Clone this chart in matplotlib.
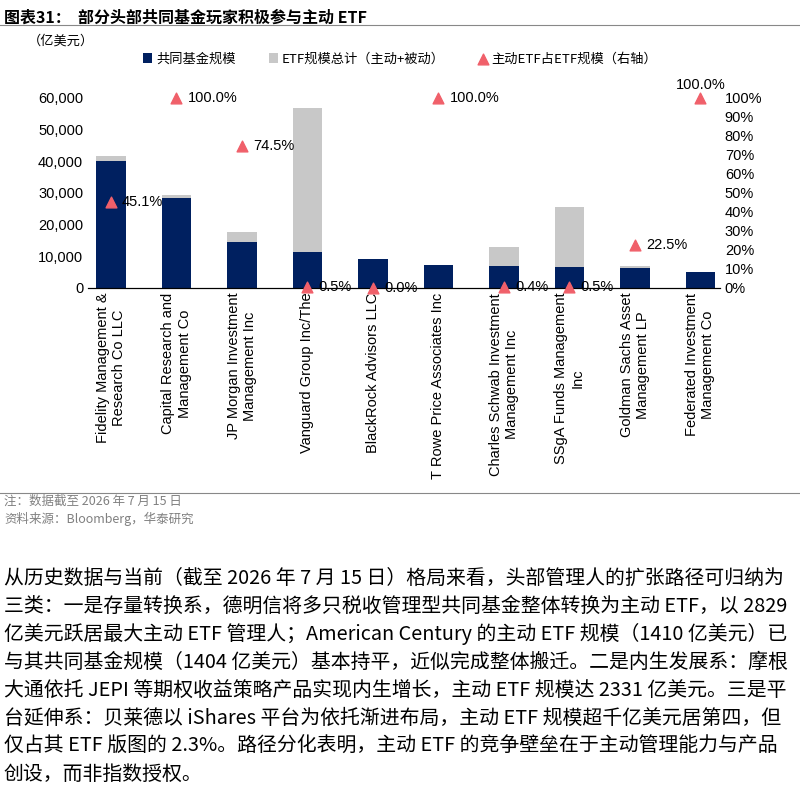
import matplotlib.pyplot as plt
import numpy as np

plt.rcParams['font.family'] = ['Noto Sans CJK SC', 'DejaVu Sans']

managers = ['Fidelity Management &\nResearch Co LLC', 'Capital Research and\nManagement Co',
            'JP Morgan Investment\nManagement Inc', 'Vanguard Group Inc/The',
            'BlackRock Advisors LLC', 'T Rowe Price Associates Inc',
            'Charles Schwab Investment\nManagement Inc', 'SSgA Funds Management\nInc',
            'Goldman Sachs Asset\nManagement LP', 'Federated Investment\nManagement Co']
mutual_fund = [40000, 28500, 14500, 11300, 9000, 7300, 7000, 6700, 6300, 5000]
etf_total = [41500, 29200, 17800, 56700, 0, 0, 13000, 25500, 6900, 0]
active_share = [45.1, 100.0, 74.5, 0.5, 0.0, 100.0, 0.4, 0.5, 22.5, 100.0]

navy = '#002060'
grey = '#c8c8c8'
red = '#f0606a'

fig = plt.figure(figsize=(8, 7.89), dpi=100)
ax = fig.add_axes([0.11, 0.635, 0.79, 0.241])
x = np.arange(len(managers))
ax.bar(x, etf_total, width=0.45, color=grey, label='ETF规模总计（主动+被动）', zorder=1)
ax.bar(x, mutual_fund, width=0.45, color=navy, label='共同基金规模', zorder=2)
ax.set_ylim(0, 60000)
ax.set_xlim(-0.35, 9.3)
ax.set_yticks(range(0, 60001, 10000))
ax.set_yticklabels([f'{v:,}' for v in range(0, 60001, 10000)], fontsize=10.5,
                   family='Liberation Sans')
ax.set_xticks(x)
ax.set_xticklabels(managers, rotation=90, fontsize=10.5, family='Liberation Sans', va='top')
for s in ['top', 'right', 'left']:
    ax.spines[s].set_visible(False)
ax.tick_params(axis='y', length=0)
ax.tick_params(axis='x', length=0)

ax2 = ax.twinx()
ax2.scatter(x, np.array(active_share) / 100, marker='^', s=60, color=red, zorder=5,
            label='主动ETF占ETF规模（右轴）', clip_on=False)
for i, (xi, v) in enumerate(zip(x, active_share)):
    if i == len(x) - 1:
        ax2.text(xi, v / 100 + 0.07, f'{v:.1f}%', fontsize=10.5, ha='center', va='center',
                 family='Liberation Sans')
    else:
        ax2.text(xi + 0.17, v / 100, f'{v:.1f}%', fontsize=10.5, va='center',
                 family='Liberation Sans')
ax2.set_ylim(0, 1.0)
ax2.set_yticks(np.arange(0, 1.01, 0.1))
ax2.set_yticklabels([f'{int(round(t*100))}%' for t in np.arange(0, 1.01, 0.1)], fontsize=10.5,
                    family='Liberation Sans')
for s in ['top', 'right', 'left']:
    ax2.spines[s].set_visible(False)
ax2.tick_params(axis='y', length=0)

h1, l1 = ax.get_legend_handles_labels()
h2, l2 = ax2.get_legend_handles_labels()
fig.legend([h1[1], h1[0], h2[0]], [l1[1], l1[0], l2[0]], loc='center', ncol=3,
           bbox_to_anchor=(0.5, 0.925), frameon=False, fontsize=9.5, handlelength=0.7,
           columnspacing=2.5, handletextpad=0.3)
fig.text(0.035, 0.943, '（亿美元）', fontsize=9.5)

fig.text(0.005, 0.988, '图表31：  部分头部共同基金玩家积极参与主动 ETF', fontsize=11.5,
         weight='bold', va='top')
fig.add_artist(plt.Line2D([0, 1], [0.968, 0.968], color='#888888', lw=0.8))
fig.text(0.005, 0.36, '注：数据截至 2026 年 7 月 15 日', fontsize=9, color='#808080')
fig.text(0.005, 0.337, '资料来源：Bloomberg，华泰研究', fontsize=9, color='#808080')
fig.add_artist(plt.Line2D([0, 1], [0.375, 0.375], color='#888888', lw=0.8))

para = ['从历史数据与当前（截至 2026 年 7 月 15 日）格局来看，头部管理人的扩张路径可归纳为',
        '三类：一是存量转换系，德明信将多只税收管理型共同基金整体转换为主动 ETF，以 2829',
        '亿美元跃居最大主动 ETF 管理人；American Century 的主动 ETF 规模（1410 亿美元）已',
        '与其共同基金规模（1404 亿美元）基本持平，近似完成整体搬迁。二是内生发展系：摩根',
        '大通依托 JEPI 等期权收益策略产品实现内生增长，主动 ETF 规模达 2331 亿美元。三是平',
        '台延伸系：贝莱德以 iShares 平台为依托渐进布局，主动 ETF 规模超千亿美元居第四，但',
        '仅占其 ETF 版图的 2.3%。路径分化表明，主动 ETF 的竞争壁垒在于主动管理能力与产品',
        '创设，而非指数授权。']
for i, line in enumerate(para):
    fig.text(0.005, 0.267 - i * 0.0355, line, fontsize=14.3, va='center')

fig.savefig('out.png', dpi=100)
